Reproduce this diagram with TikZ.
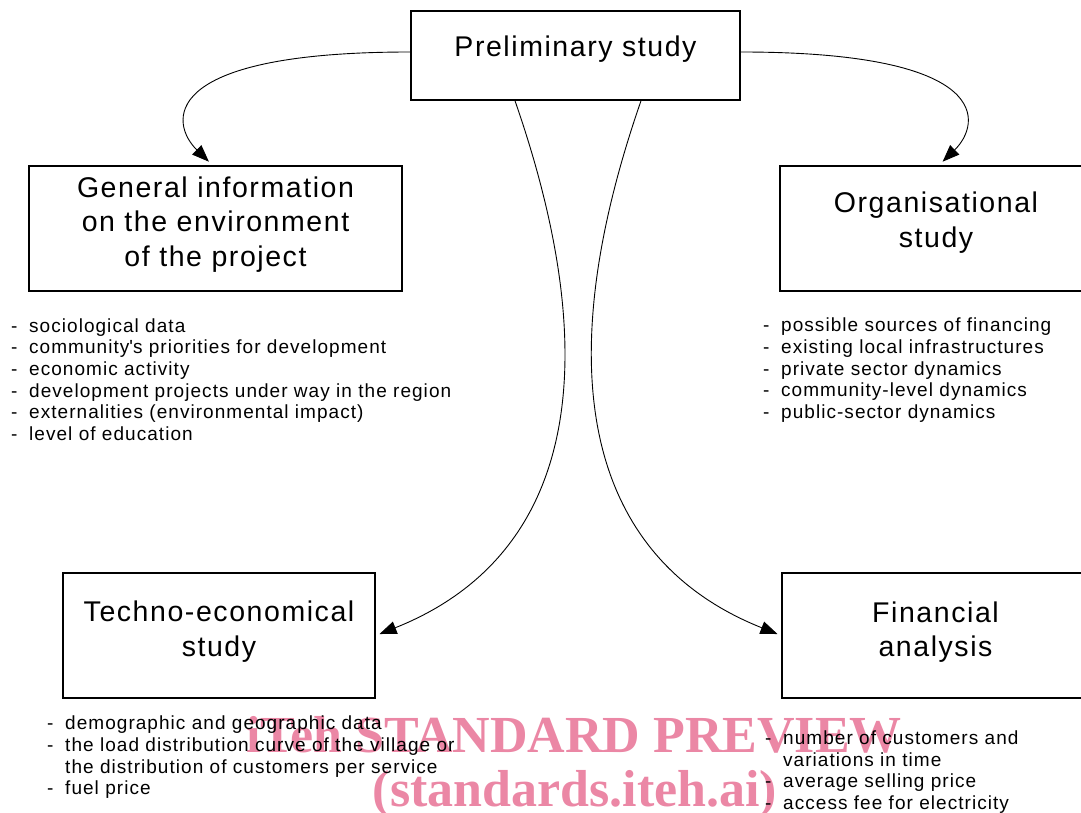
\documentclass[tikz,border=0pt]{standalone}
\usepackage{fontspec}
\setmainfont{Liberation Sans}[LetterSpace=5.5]
\newfontfamily\wmfont{Liberation Serif}
\usetikzlibrary{arrows.meta}
\definecolor{wmpink}{RGB}{235,135,165}
\newcommand\lidash{\makebox[18pt][l]{-}}
\newcommand\liskip{\makebox[18pt]{}}
\begin{document}
\begin{tikzpicture}[x=1pt,y=-1pt,>={Triangle[length=17pt,width=13pt]},
	box/.style={draw,line width=1.6pt,minimum height=125pt,inner sep=0pt},
	title/.style={font=\fontsize{28.5}{34.5}\selectfont,align=center,inner sep=0pt},
	list/.style={font=\fontsize{19}{21.6}\selectfont,align=left,anchor=north west,inner sep=0pt},
	link/.style={->,line width=0.9pt,shorten >=4pt},
	wmark/.style={font=\wmfont\bfseries\fontsize{52}{54}\selectfont,text=wmpink,anchor=base,inner sep=0pt}]
	\useasboundingbox (0,0) rectangle (1081,813);
	% Kaesten
	\node[box,minimum width=329pt,minimum height=89pt,label={[title,yshift=6pt]center:Preliminary study}] (pre) at (575.5,55.5) {};
	\node[box,minimum width=373pt,label={[title,yshift=4pt]center:General information\\on the environment\\of the project}] (gen) at (215.5,228.5) {};
	\node[box,minimum width=312pt,label={[title,yshift=6pt]center:Organisational\\study}] (org) at (936,228.5) {};
	\node[box,minimum width=312pt,label={[title,yshift=4pt]center:Techno-economical\\study}] (tec) at (219,635.5) {};
	\node[box,minimum width=312pt,label={[title,yshift=3.5pt,xshift=-2.5pt]center:Financial\\analysis}] (fin) at (938,635.5) {};
	% Pfeile
	\draw[link,shorten >=5pt] ([yshift=3.5pt]pre.west) .. controls +(-255,0) and +(-42,-41) .. ([xshift=-3pt]gen.north);
	\draw[link,shorten >=5pt] ([yshift=3.5pt]pre.east) .. controls +(255,0) and +(42,-41) .. ([xshift=3pt]org.north);
	\draw[link] ([xshift=-60.5pt]pre.south) .. controls +(99,285) and +(186,-74) .. (tec.east);
	\draw[link] ([xshift=65.5pt]pre.south) .. controls +(-99,285) and +(-186,-74) .. (fin.west);
	% Wasserzeichen
	\node[wmark] (wm1) at (574,752) {iTeh STANDARD PREVIEW};
	\node[wmark] (wm2) at (575,806) {(standards.iteh.ai)};
	% Listen
	\node[list] (genlist) at (11,318.3) {\lidash sociological data\\
		\lidash community\textquotesingle s priorities for development\\
		\lidash economic activity\\
		\lidash development projects under way in the region\\
		\lidash externalities (environmental impact)\\
		\lidash level of education};
	\node[list] (orglist) at (763,318) {\lidash possible sources of financing\\
		\lidash existing local infrastructures\\
		\lidash private sector dynamics\\
		\lidash community-level dynamics\\
		\lidash public-sector dynamics};
	\node[list] (teclist) at (47,716) {\lidash demographic and geographic data\\
		\lidash the load distribution curve of the village or\\
		\liskip the distribution of customers per service\\
		\lidash fuel price};
	\node[list] (finlist) at (765,730.5) {\lidash number of customers and\\
		\liskip variations in time\\
		\lidash average selling price\\
		\lidash access fee for electricity};
\end{tikzpicture}
\end{document}
